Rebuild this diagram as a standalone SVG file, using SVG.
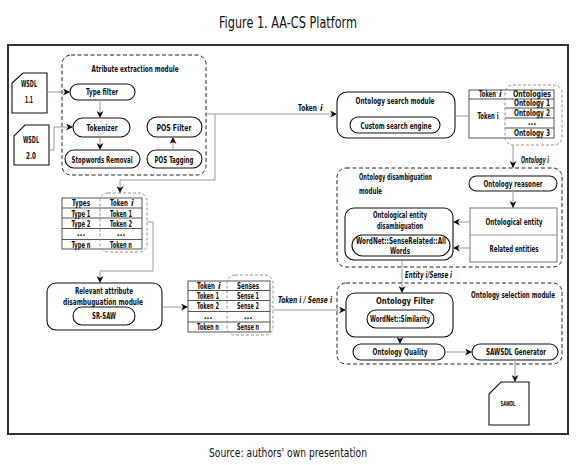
<svg xmlns="http://www.w3.org/2000/svg" width="580" height="465" viewBox="0 0 580 465">
<style>
text{font-family:"DejaVu Sans Condensed","DejaVu Sans",sans-serif;font-stretch:condensed;font-weight:bold;font-size:8.5px;fill:#111;text-anchor:middle}
.l{text-anchor:start}
.i{font-style:italic}
.cap{font-weight:normal;font-size:15px}
.box{fill:#fff;stroke:#111;stroke-width:1.1}
.gbox{fill:#fff;stroke:#666;stroke-width:0.9}
.dash{fill:none;stroke:#222;stroke-width:1;stroke-dasharray:4 2.5}
.gdash{fill:none;stroke:#888;stroke-width:0.9;stroke-dasharray:3 2}
.tbl{fill:#fff;stroke:#444;stroke-width:0.9}
.tl{stroke:#444;stroke-width:0.9}
.c{fill:none;stroke:#999;stroke-width:1}
.ca{fill:none;stroke:#999;stroke-width:1;marker-end:url(#ah)}
</style>
<defs>
<marker id="ah" viewBox="0 0 10 10" refX="10" refY="5" markerWidth="8" markerHeight="7" markerUnits="userSpaceOnUse" orient="auto">
<path d="M0,0 L10,5 L0,10 L3,5 Z" fill="#111"/>
</marker>
</defs>
<rect width="580" height="465" fill="#fff"/>
<text class="cap" x="288" y="28" textLength="138" lengthAdjust="spacingAndGlyphs">Figure 1. AA-CS Platform</text>
<text class="cap" x="288" y="457" style="font-size:13px" textLength="158" lengthAdjust="spacingAndGlyphs">Source: authors' own presentation</text>
<rect x="8" y="45" width="560" height="389" fill="none" stroke="#333" stroke-width="2"/>

<g id="attribute-extraction-module">
<rect class="dash" x="62" y="55" width="144" height="120" rx="9"/>
<text x="135" y="72" textLength="87" lengthAdjust="spacingAndGlyphs">Atribute extraction module</text>
</g>
<g id="wsdl-1-1">
<path class="box" d="M23,73 H47 V113 H12 V83 Z"/>
<text x="29" y="87" textLength="16" lengthAdjust="spacingAndGlyphs">WSDL</text>
<text x="29" y="103" textLength="8" lengthAdjust="spacingAndGlyphs">1.1</text>
</g>
<g id="wsdl-2-0">
<path class="box" d="M25,125 H49 V165 H14 V136 Z"/>
<text x="31" y="143" textLength="16" lengthAdjust="spacingAndGlyphs">WSDL</text>
<text x="31" y="159" textLength="10" lengthAdjust="spacingAndGlyphs">2.0</text>
</g>
<g id="type-filter">
<rect class="box" x="70" y="84" width="65" height="16" rx="8"/>
<text x="102" y="95" textLength="32" lengthAdjust="spacingAndGlyphs">Type filter</text>
</g>
<g id="tokenizer">
<rect class="box" x="73" y="118" width="57" height="19" rx="9.5"/>
<text x="102" y="130.5" textLength="31" lengthAdjust="spacingAndGlyphs">Tokenizer</text>
</g>
<g id="stopwords-removal">
<rect class="box" x="65" y="150" width="75" height="18" rx="9"/>
<text x="102" y="162.5" textLength="61" lengthAdjust="spacingAndGlyphs">Stopwords Removal</text>
</g>
<g id="pos-filter">
<rect class="box" x="147" y="117" width="55" height="20" rx="10"/>
<text x="174" y="130.5" textLength="35" lengthAdjust="spacingAndGlyphs">POS Filter</text>
</g>
<g id="pos-tagging">
<rect class="box" x="147" y="150" width="55" height="18" rx="9"/>
<text x="174" y="162.5" textLength="39" lengthAdjust="spacingAndGlyphs">POS Tagging</text>
</g>

<g id="ontology-search-module">
<rect class="box" x="337" y="92" width="118" height="46" rx="10"/>
<text x="395" y="104" textLength="79" lengthAdjust="spacingAndGlyphs">Ontology search module</text>
<rect class="box" x="350" y="117" width="90" height="16" rx="8"/>
<text x="396" y="128.5" textLength="71" lengthAdjust="spacingAndGlyphs">Custom search engine</text>
</g>

<g id="ontologies-table">
<rect class="tbl" x="469" y="90" width="85" height="48"/>
<line class="tl" x1="469" y1="99" x2="554" y2="99"/>
<line class="tl" x1="505" y1="108" x2="554" y2="108"/>
<line class="tl" x1="505" y1="118" x2="554" y2="118"/>
<line class="tl" x1="505" y1="128" x2="554" y2="128"/>
<rect class="gdash" x="505" y="85" width="57" height="60" rx="8"/>
<text class="l" x="479" y="97" textLength="17" lengthAdjust="spacingAndGlyphs">Token</text>
<text class="l i" x="499" y="97">i</text>
<text x="532" y="97" textLength="38" lengthAdjust="spacingAndGlyphs">Ontologies</text>
<text x="532" y="106" textLength="36" lengthAdjust="spacingAndGlyphs">Ontology 1</text>
<text x="532" y="115.5" textLength="36" lengthAdjust="spacingAndGlyphs">Ontology 2</text>
<text x="532" y="125">...</text>
<text x="532" y="136" textLength="36" lengthAdjust="spacingAndGlyphs">Ontology 3</text>
<text x="488" y="119" textLength="21" lengthAdjust="spacingAndGlyphs">Token i</text>
</g>

<g id="ontology-disambiguation-module">
<rect class="dash" x="337" y="168" width="225" height="99" rx="9"/>
<text class="l" x="359" y="180" textLength="73" lengthAdjust="spacingAndGlyphs">Ontology disambiguation</text>
<text class="l" x="359" y="194" textLength="23" lengthAdjust="spacingAndGlyphs">module</text>
</g>
<g id="ontology-reasoner">
<rect class="box" x="469" y="176" width="88" height="15" rx="7.5"/>
<text x="513" y="186.5" textLength="59" lengthAdjust="spacingAndGlyphs">Ontology reasoner</text>
</g>
<g id="ontological-entity">
<rect class="gbox" x="470" y="208" width="87" height="54"/>
<line class="tl" x1="470" y1="235" x2="557" y2="235" style="stroke:#888"/>
<text x="514" y="225" textLength="57" lengthAdjust="spacingAndGlyphs">Ontological entity</text>
<text x="514" y="252" textLength="49" lengthAdjust="spacingAndGlyphs">Related entities</text>
</g>
<g id="ontological-entity-disambiguation">
<rect class="box" x="345" y="208" width="108" height="52" rx="9"/>
<text x="400" y="217.5" textLength="54" lengthAdjust="spacingAndGlyphs">Ontological entity</text>
<text x="400" y="229" textLength="46" lengthAdjust="spacingAndGlyphs">disambiguation</text>
<rect class="box" x="352" y="235" width="98" height="21" rx="10.5"/>
<text x="401" y="243.5" textLength="90" lengthAdjust="spacingAndGlyphs">WordNet::SenseRelated::All</text>
<text x="400" y="253.5" textLength="20" lengthAdjust="spacingAndGlyphs">Words</text>
</g>

<g id="types-table">
<rect class="tbl" x="62" y="198" width="80" height="51"/>
<line class="tl" x1="62" y1="208" x2="142" y2="208"/>
<line class="tl" x1="62" y1="218" x2="142" y2="218"/>
<line class="tl" x1="62" y1="228.5" x2="142" y2="228.5"/>
<line class="tl" x1="62" y1="239.5" x2="142" y2="239.5"/>
<rect class="gdash" x="100" y="193" width="47" height="59" rx="8"/>
<text x="81" y="206" textLength="18" lengthAdjust="spacingAndGlyphs">Types</text>
<text class="l" x="110" y="206" textLength="18" lengthAdjust="spacingAndGlyphs">Token</text>
<text class="l i" x="131" y="206">i</text>
<text x="81" y="216.5" textLength="19" lengthAdjust="spacingAndGlyphs">Type 1</text>
<text x="121" y="216.5" textLength="22" lengthAdjust="spacingAndGlyphs">Token 1</text>
<text x="81" y="226.5" textLength="19" lengthAdjust="spacingAndGlyphs">Type 2</text>
<text x="121" y="226.5" textLength="22" lengthAdjust="spacingAndGlyphs">Token 2</text>
<text x="81" y="236">...</text>
<text x="121" y="236">...</text>
<text x="81" y="247.5" textLength="19" lengthAdjust="spacingAndGlyphs">Type n</text>
<text x="121" y="247.5" textLength="22" lengthAdjust="spacingAndGlyphs">Token n</text>
</g>

<g id="relevant-attribute-module">
<rect class="box" x="47" y="283" width="115" height="47" rx="9"/>
<text x="104" y="294" textLength="58" lengthAdjust="spacingAndGlyphs">Relevant attribute</text>
<text x="103" y="304.5" textLength="80" lengthAdjust="spacingAndGlyphs">disambuguation module</text>
<rect class="box" x="73" y="307" width="62" height="18" rx="9"/>
<text x="104" y="319" textLength="24" lengthAdjust="spacingAndGlyphs">SR-SAW</text>
</g>

<g id="senses-table">
<rect class="tbl" x="188" y="281" width="82" height="51"/>
<line class="tl" x1="188" y1="290.5" x2="270" y2="290.5"/>
<line class="tl" x1="188" y1="300.5" x2="270" y2="300.5"/>
<line class="tl" x1="188" y1="311.5" x2="270" y2="311.5"/>
<line class="tl" x1="188" y1="322" x2="270" y2="322"/>
<rect class="gdash" x="227" y="275" width="46" height="60" rx="8"/>
<text class="l" x="197" y="288.5" textLength="18" lengthAdjust="spacingAndGlyphs">Token</text>
<text class="l i" x="218" y="288.5">i</text>
<text x="248" y="288.5" textLength="22" lengthAdjust="spacingAndGlyphs">Senses</text>
<text x="208" y="298.5" textLength="22" lengthAdjust="spacingAndGlyphs">Token 1</text>
<text x="248" y="298.5" textLength="22" lengthAdjust="spacingAndGlyphs">Sense 1</text>
<text x="208" y="309" textLength="22" lengthAdjust="spacingAndGlyphs">Token 2</text>
<text x="248" y="309" textLength="22" lengthAdjust="spacingAndGlyphs">Sense 2</text>
<text x="208" y="318.5">...</text>
<text x="248" y="318.5">...</text>
<text x="208" y="330" textLength="22" lengthAdjust="spacingAndGlyphs">Token n</text>
<text x="248" y="330" textLength="22" lengthAdjust="spacingAndGlyphs">Sense n</text>
</g>

<g id="ontology-selection-module">
<rect class="dash" x="337" y="283" width="225" height="81" rx="9"/>
<text x="513" y="298" style="font-size:8px" textLength="84" lengthAdjust="spacingAndGlyphs">Ontology selection module</text>
</g>
<g id="ontology-filter">
<rect class="box" x="346" y="293" width="107" height="44" rx="9"/>
<text x="405" y="303.5" textLength="58" lengthAdjust="spacingAndGlyphs">Ontology Filter</text>
<rect class="box" x="367" y="310" width="67" height="18" rx="9"/>
<text x="400" y="322" textLength="60" lengthAdjust="spacingAndGlyphs">WordNet::Similarity</text>
</g>
<g id="ontology-quality">
<rect class="box" x="353" y="344" width="92" height="16" rx="8"/>
<text x="400" y="355" textLength="55" lengthAdjust="spacingAndGlyphs">Ontology Quality</text>
</g>
<g id="sawsdl-generator">
<rect class="box" x="472" y="344" width="86" height="16" rx="8"/>
<text x="516" y="355" textLength="60" lengthAdjust="spacingAndGlyphs">SAWSDL Generator</text>
</g>
<g id="sawdl">
<path class="box" d="M501,382 H529 V425 H489 V394 Z"/>
<text x="508" y="406" style="font-size:7px" textLength="15" lengthAdjust="spacingAndGlyphs">SAWDL</text>
</g>

<g id="connectors">
<path class="ca" d="M47,92 H70"/>
<path class="ca" d="M49,150 H54 V127 H73"/>
<path class="ca" d="M100,100 V118"/>
<path class="ca" d="M100,137 V150"/>
<path class="ca" d="M173,150 V137"/>
<path class="ca" d="M206,114 H337"/>
<path class="ca" d="M215,114 V180 H120 V193"/>
<path class="c" d="M455,116 H469"/>
<path class="ca" d="M513,145 V168"/>
<path class="ca" d="M513,191 V208"/>
<path class="ca" d="M470,222 H453"/>
<path class="ca" d="M470,248 H453"/>
<path class="ca" d="M147,222 H153 V271 H100 V283"/>
<path class="ca" d="M162,307 H188"/>
<path class="ca" d="M273,310 H346"/>
<path class="ca" d="M402,260 V293"/>
<path class="ca" d="M400,337 V344"/>
<path class="ca" d="M445,352 H472"/>
<path class="ca" d="M515,360 V382"/>
<text class="l" x="298" y="111" textLength="19" lengthAdjust="spacingAndGlyphs">Token</text>
<text class="l i" x="320" y="111">i</text>
<text class="l i" x="521" y="163" textLength="28" lengthAdjust="spacingAndGlyphs">Ontology i</text>
<text class="l i" x="278" y="303" textLength="54" lengthAdjust="spacingAndGlyphs">Token i / Sense i</text>
<text class="l i" x="405" y="278" textLength="47" lengthAdjust="spacingAndGlyphs">Entity i/Sense i</text>
</g>
</svg>
